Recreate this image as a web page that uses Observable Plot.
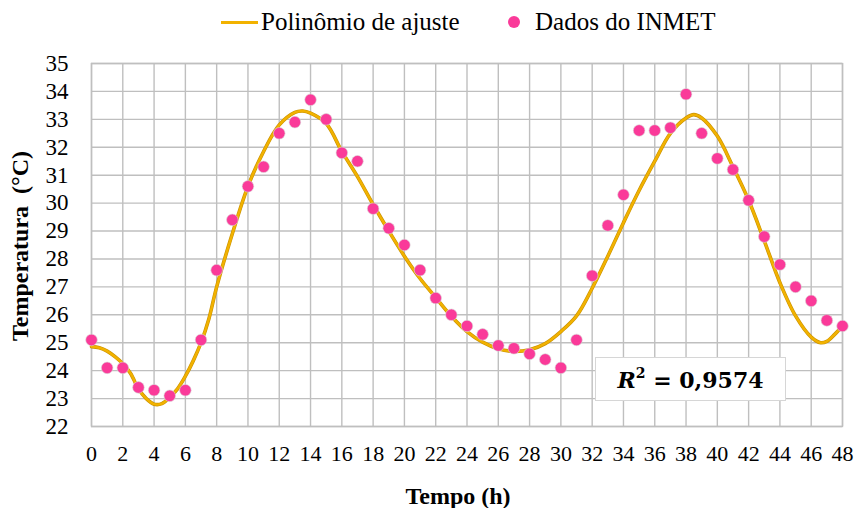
<!DOCTYPE html>
<html><head><meta charset="utf-8">
<script src="https://cdn.jsdelivr.net/npm/d3@7"></script>
<script src="https://cdn.jsdelivr.net/npm/@observablehq/plot@0.6"></script>
<style>
body{margin:0;background:#fff;font-family:"Liberation Serif","Times New Roman",serif;color:#000;}
#wrap{position:relative;width:855px;height:508px;overflow:hidden;background:#fff;}
#legend{position:absolute;top:0;left:0;width:855px;height:45px;}
.lg{position:absolute;font-size:25px;line-height:25px;white-space:nowrap;}
#chart{position:absolute;top:45px;left:0;}
#xtitle{position:absolute;left:458px;top:483px;transform:translateX(-50%);font-weight:bold;font-size:24px;line-height:26px;white-space:nowrap;}
#ytitle{position:absolute;left:20px;top:246px;transform:translate(-50%,-50%) rotate(-90deg);font-weight:bold;font-size:24px;white-space:pre;}
#r2{position:absolute;left:595px;top:357px;width:191px;height:44px;background:#fff;border:1px solid #d6d6d6;box-sizing:border-box;
  font-family:"DejaVu Serif",serif;font-weight:bold;font-size:22px;line-height:44px;text-align:center;white-space:nowrap;}
</style></head>
<body>
<div id="wrap">
  <div id="legend"></div>
  <div id="chart"></div>
  <div id="xtitle"></div>
  <div id="ytitle"></div>
  <div id="r2"><i>R</i><sup style="font-size:14px;vertical-align:10px;line-height:0">2</sup> = 0,9574</div>
</div>
<script>
// INMET observations
const hours = [0,1,2,3,4,5,6,7,8,9,10,11,12,13,14,15,16,17,18,19,20,21,22,23,24,25,26,27,28,29,30,31,32,33,34,35,36,37,38,39,40,41,42,43,44,45,46,47,48];
const temps = [25.1,24.1,24.1,23.4,23.3,23.1,23.3,25.1,27.6,29.4,30.6,31.3,32.5,32.9,33.7,33.0,31.8,31.5,29.8,29.1,28.5,27.6,26.6,26.0,25.6,25.3,24.9,24.8,24.6,24.4,24.1,25.1,27.4,29.2,30.3,32.6,32.6,32.7,33.9,32.5,31.6,31.2,30.1,28.8,27.8,27.0,26.5,25.8,25.6];
// fitted polynomial
const fitT = [0,0.5,1,1.5,2,2.5,3,3.5,4,4.5,5,5.5,6,6.5,7,7.5,8,9,10,11,12,13,13.5,14,15,16,17,18,19,20,21,22,23,24,25,26,27,28,29,30,31,32,33,34,35,36,37,38,38.5,39,40,41,42,43,44,45,46,46.6,47,47.5,48];
const fitY = [24.86,24.82,24.7,24.5,24.25,23.9,23.35,23.0,22.8,22.82,23.05,23.35,23.8,24.35,25.0,25.85,27.0,28.9,30.6,31.85,32.8,33.25,33.3,33.22,32.85,31.85,30.95,29.95,29.0,28.1,27.3,26.62,25.95,25.4,25.02,24.78,24.69,24.75,24.97,25.4,25.96,26.95,28.1,29.3,30.45,31.5,32.5,33.05,33.17,33.05,32.4,31.3,30.1,28.65,27.15,25.96,25.2,25.0,25.05,25.3,25.6];
const xTicks = [0,2,4,6,8,10,12,14,16,18,20,22,24,26,28,30,32,34,36,38,40,42,44,46,48];
const yTicks = [22,23,24,25,26,27,28,29,30,31,32,33,34,35];
const seriesNames = ["Polinômio de ajuste","Dados do INMET"];
const xTitle = "Tempo (h)";
const yTitle = "Temperatura  (°C)";

const obs = hours.map((h,i)=>({h, t: temps[i]}));
const fit = fitT.map((h,i)=>({h, t: fitY[i]}));

const lineColor = "#f2b200";
const dotColor = "#fa3a99";
const gridColor = "#bfbfbf";

// legend
const lg = document.getElementById("legend");
lg.innerHTML =
  `<div style="position:absolute;left:221px;top:21px;width:37px;height:3px;background:${lineColor}"></div>` +
  `<div class="lg" style="left:261px;top:9px">${seriesNames[0]}</div>` +
  `<div style="position:absolute;left:508px;top:16px;width:12px;height:12px;border-radius:50%;background:${dotColor}"></div>` +
  `<div class="lg" style="left:535px;top:9px">${seriesNames[1]}</div>`;
document.getElementById("xtitle").textContent = xTitle;
document.getElementById("ytitle").textContent = yTitle;

const chart = Plot.plot({
  width: 855,
  height: 463,
  marginLeft: 91,
  marginRight: 13,
  marginTop: 18,
  marginBottom: 82,
  style: {fontFamily: "'Liberation Serif', 'Times New Roman', serif", background: "#fff", color: "#000"},
  x: {domain: [0, 48]},
  y: {domain: [22, 35]},
  marks: [
    Plot.gridX(xTicks, {stroke: gridColor, strokeOpacity: 1, strokeWidth: 1.4}),
    Plot.gridY(yTicks, {stroke: gridColor, strokeOpacity: 1, strokeWidth: 1.4}),
    Plot.frame({stroke: gridColor, strokeWidth: 1.4}),
    Plot.axisX(xTicks, {tickSize: 0, tickPadding: 19, fontSize: 22, label: null}),
    Plot.axisY(yTicks, {tickSize: 0, tickPadding: 23, fontSize: 23, label: null}),
    Plot.line(fit, {x: "h", y: "t", stroke: "#c99200", strokeWidth: 3.6, curve: "catmull-rom"}),
    Plot.line(fit, {x: "h", y: "t", stroke: lineColor, strokeWidth: 2.4, curve: "catmull-rom"}),
    Plot.dot(obs, {x: "h", y: "t", r: 5.8, fill: dotColor, stroke: "#d8d8d8", strokeWidth: 0.6})
  ]
});
document.getElementById("chart").appendChild(chart);
</script>
</body></html>
